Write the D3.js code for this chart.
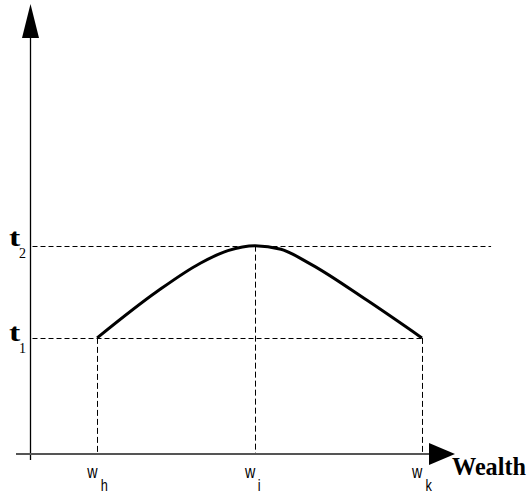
<!DOCTYPE html>
<html>
<head>
<meta charset="utf-8">
<script src="https://cdn.jsdelivr.net/npm/d3@7"></script>
<style>
  body { margin: 0; background: #fff; }
  svg { display: block; }
</style>
</head>
<body>
<svg id="chart"></svg>
<script>
// wealth levels on the x axis and their labels
const wealthTicks = [15.7, 52.9, 92.2];
const wealthSubs = ['h', 'i', 'k'];
// t levels on the y axis
const tTicks = [2.58, 4.63];
const tSubs = ['1', '2'];
// the hump curve
const curveX = [15.7, 29.8, 40.0, 46.5, 52.9, 59.0, 66.0, 79.2, 92.2];
const curveY = [2.58, 3.61, 4.24, 4.52, 4.63, 4.55, 4.22, 3.42, 2.58];

const width = 527, height = 498;

const x = d3.scaleLinear().domain([0, 100]).range([30.5, 455]);
const y = d3.scaleLinear().domain([0, 10]).range([454, 4]);

const svg = d3.select('#chart').attr('width', width).attr('height', height);

// dashed guide lines
const guides = svg.append('g')
    .attr('stroke', '#000')
    .attr('stroke-width', 1)
    .attr('fill', 'none');

// horizontal: t1 runs to w_k, t2 runs further right
const hEnds = [wealthTicks[2], 108.5];
tTicks.forEach((t, i) => {
  guides.append('line')
    .attr('x1', x(0) + 2).attr('x2', x(hEnds[i]))
    .attr('y1', Math.round(y(t)) + 0.5).attr('y2', Math.round(y(t)) + 0.5)
    .attr('stroke-dasharray', '5,3');
});

// vertical: from the curve down to the axis
const vTops = [tTicks[0], tTicks[1], tTicks[0]];
wealthTicks.forEach((w, i) => {
  guides.append('line')
    .attr('x1', Math.round(x(w)) + 0.5).attr('x2', Math.round(x(w)) + 0.5)
    .attr('y1', y(vTops[i])).attr('y2', y(0))
    .attr('stroke-dasharray', '6,3');
});

// y axis
svg.append('line')
    .attr('x1', x(0)).attr('x2', x(0))
    .attr('y1', 36).attr('y2', 460)
    .attr('stroke', '#000').attr('stroke-width', 1.3);
svg.append('path')
    .attr('d', `M${x(0)},4 L${x(0) - 8.5},38 L${x(0) + 8.5},38 Z`)
    .attr('fill', '#000');

// x axis
svg.append('line')
    .attr('x1', 16).attr('x2', 431)
    .attr('y1', y(0)).attr('y2', y(0))
    .attr('stroke', '#555').attr('stroke-width', 2);
svg.append('path')
    .attr('d', `M429,${y(0) - 11} L455,${y(0)} L429,${y(0) + 11} Z`)
    .attr('fill', '#000');

// curve
const pts = curveX.map((v, i) => [v, curveY[i]]);
svg.append('path')
    .datum(pts)
    .attr('d', d3.line().x(d => x(d[0])).y(d => y(d[1])).curve(d3.curveMonotoneX))
    .attr('fill', 'none')
    .attr('stroke', '#000')
    .attr('stroke-width', 3)
    .attr('stroke-linecap', 'butt');

// x tick labels: w with subscript
wealthTicks.forEach((w, i) => {
  const g = svg.append('g')
      .attr('transform', `translate(${x(w) - 10},478) scale(0.75,1)`);
  g.append('text')
      .attr('font-family', 'Liberation Sans, Arial, sans-serif')
      .attr('font-size', 19)
      .attr('fill', '#000')
      .text('w');
  g.append('text')
      .attr('x', wealthSubs[i] === 'i' ? 17 : 18)
      .attr('y', 13)
      .attr('font-family', 'Liberation Sans, Arial, sans-serif')
      .attr('font-size', 17)
      .attr('fill', '#000')
      .text(wealthSubs[i]);
});

// y tick labels: t with subscript
tTicks.forEach((t, i) => {
  const g = svg.append('g')
      .attr('transform', `translate(9,${y(t) + (i === 0 ? 3 : 0)})`);
  g.append('text')
      .attr('font-family', 'Liberation Serif, Times New Roman, serif')
      .attr('font-weight', 'bold')
      .attr('font-size', 26)
      .attr('transform', 'scale(1.3,1)')
      .attr('fill', '#000')
      .text('t');
  g.append('text')
      .attr('x', 10).attr('y', 12)
      .attr('font-family', 'Liberation Serif, Times New Roman, serif')
      .attr('font-size', 14)
      .attr('fill', '#000')
      .text(tSubs[i]);
});

// axis title
svg.append('text')
    .attr('x', 452).attr('y', 475)
    .attr('font-family', 'Liberation Serif, Times New Roman, serif')
    .attr('font-weight', 'bold')
    .attr('font-size', 25)
    .attr('textLength', 74)
    .attr('lengthAdjust', 'spacingAndGlyphs')
    .attr('fill', '#000')
    .text('Wealth');
</script>
</body>
</html>
